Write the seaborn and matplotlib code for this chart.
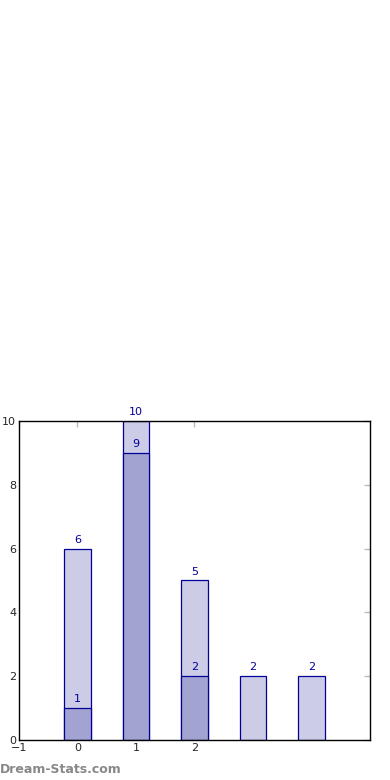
import numpy as np
import pandas as pd
import matplotlib
matplotlib.use("Agg")
import matplotlib.pyplot as plt
import seaborn as sns

sns.set_style("white")
plt.rcParams["font.family"] = ["DejaVu Sans"]

# ─── Data ──────────────────────────────────────────────────────────────────
positions = [0, 1, 2, 3, 4]
totals = [6, 10, 5, 2, 2]
sub_positions = [0, 1, 2]
sub_values = [1, 9, 2]

light = "#ccccE6"
dark = "#a3a3d1"
edge = "#000099"

fig = plt.figure(figsize=(3.9, 7.8), dpi=100)
ax = fig.add_axes([0.0487, 0.0513, 0.9, 0.409])

df_tot = pd.DataFrame({"x": positions, "y": totals})
df_sub = pd.DataFrame({"x": sub_positions, "y": sub_values})

sns.barplot(data=df_tot, x="x", y="y", native_scale=True, width=0.45,
            color=light, saturation=1, edgecolor=edge, linewidth=0.9, ax=ax)
sns.barplot(data=df_sub, x="x", y="y", native_scale=True, width=0.45,
            color=dark, saturation=1, edgecolor=edge, linewidth=0.9, ax=ax)

for x, y in zip(positions, totals):
    ax.text(x, y + 0.12, str(y), ha="center", va="bottom", fontsize=8, color=edge)
for x, y in zip(sub_positions, sub_values):
    ax.text(x, y + 0.12, str(y), ha="center", va="bottom", fontsize=8, color=edge)

ax.set_xlim(-1, 5)
ax.set_ylim(0, 10)
ax.set_xticks([-1, 0, 1, 2])
ax.set_xticklabels(["\u22121", "0", "1", "2"])
ax.set_yticks([0, 2, 4, 6, 8, 10])
ax.set_xlabel("")
ax.set_ylabel("")
ax.tick_params(axis="both", direction="in", length=4, width=1, color="#bbbbbb",
               labelsize=8, top=True, right=True, pad=2)
for s in ax.spines.values():
    s.set_color("black")
    s.set_linewidth(1)

fig.text(0.0, 0.013, "Dream-Stats.com", fontsize=9, color="#888888",
         fontweight="bold", ha="left", va="center")

fig.savefig("out.png", dpi=100)
plt.close(fig)
